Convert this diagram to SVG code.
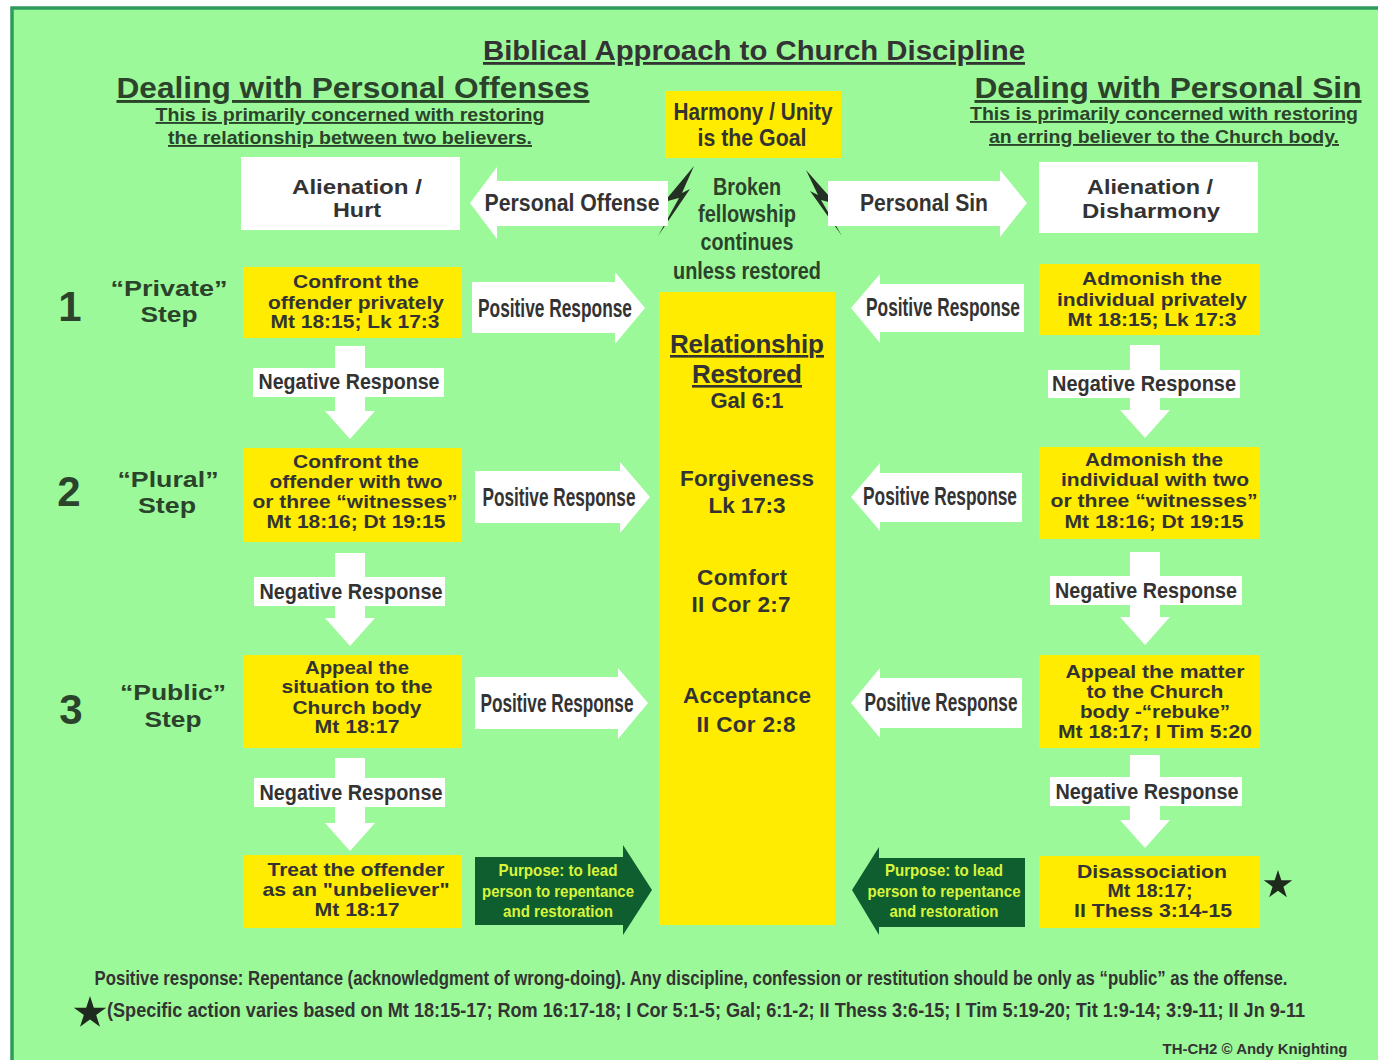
<svg xmlns="http://www.w3.org/2000/svg" xmlns:xlink="http://www.w3.org/1999/xlink" width="1378" height="1060" viewBox="0 0 1378 1060">
<style>
text{font-family:"Liberation Sans",Arial,sans-serif;font-weight:bold;text-anchor:middle;fill:#333;}
.n{font-family:"Liberation Sans Narrow","Liberation Sans",Arial,sans-serif;}
.h{fill:#2b432b;}
.u{text-decoration:underline;}
.bx{font-size:18.5px;}
.pr{font-size:25px;}
.ng{font-size:22px;}
.pu{font-size:17px;fill:#d8f53c;}
.yel{fill:#ffec00;}
.wht{fill:#ffffff;}
.dg{fill:#0e5e30;}
.c{font-size:22.5px;}
</style>
<defs>
<path id="star" d="M0,-1 L0.2245,-0.309 L0.951,-0.309 L0.363,0.118 L0.588,0.809 L0,0.382 L-0.588,0.809 L-0.363,0.118 L-0.951,-0.309 L-0.2245,-0.309 Z" fill="#1e2a1e"/>
<polygon id="down" points="-15,0 15,0 15,65 25,65 0,93 -25,65 -15,65"/>
</defs>
<rect x="0" y="0" width="1378" height="1060" fill="#ffffff"/>
<rect x="12" y="8" width="1380" height="1070" fill="#9cf99a" stroke="#2e9a5c" stroke-width="3.5"/>

<g id="titles">
<text class="n u" x="754" y="60" font-size="28" textLength="542" lengthAdjust="spacingAndGlyphs">Biblical Approach to Church Discipline</text>
<text class="h u" x="353" y="98" font-size="29" textLength="473" lengthAdjust="spacingAndGlyphs">Dealing with Personal Offenses</text>
<text class="n h u" x="350" y="121" font-size="19" textLength="389" lengthAdjust="spacingAndGlyphs">This is primarily concerned with restoring</text>
<text class="n h u" x="350" y="144" font-size="19" textLength="364" lengthAdjust="spacingAndGlyphs">the relationship between two believers.</text>
<text class="h u" x="1168" y="98" font-size="29" textLength="387" lengthAdjust="spacingAndGlyphs">Dealing with Personal Sin</text>
<text class="n h u" x="1164" y="120" font-size="19" textLength="388" lengthAdjust="spacingAndGlyphs">This is primarily concerned with restoring</text>
<text class="n h u" x="1164" y="143" font-size="19" textLength="350" lengthAdjust="spacingAndGlyphs">an erring believer to the Church body.</text>
</g>

<g id="goal">
<rect class="yel" x="665" y="91" width="176" height="67"/>
<text class="n" x="753" y="120" font-size="23" textLength="159" lengthAdjust="spacingAndGlyphs">Harmony / Unity</text>
<text class="n" x="752" y="146" font-size="23" textLength="109" lengthAdjust="spacingAndGlyphs">is the Goal</text>
</g>

<g id="broken">
<text class="n h" x="747" y="195" font-size="23" textLength="68" lengthAdjust="spacingAndGlyphs">Broken</text>
<text class="n h" x="747" y="222" font-size="23" textLength="98" lengthAdjust="spacingAndGlyphs">fellowship</text>
<text class="n h" x="747" y="250" font-size="23" textLength="93" lengthAdjust="spacingAndGlyphs">continues</text>
<text class="n h" x="747" y="279" font-size="23" textLength="148" lengthAdjust="spacingAndGlyphs">unless restored</text>
<polygon points="694,166 664,202 679,198 658,236 690,189 682,193" fill="#243024"/>
<polygon points="806,170 836,204 821,200 842,236 810,191 818,195" fill="#243024"/>
</g>

<g id="hurt">
<rect class="wht" x="241" y="157" width="219" height="73"/>
<text x="357" y="194" font-size="20" textLength="130" lengthAdjust="spacingAndGlyphs">Alienation /</text>
<text x="357" y="217" font-size="20" textLength="48" lengthAdjust="spacingAndGlyphs">Hurt</text>
</g>
<g id="disharmony">
<rect class="wht" x="1039" y="162" width="219" height="71"/>
<text x="1150" y="194" font-size="20" textLength="126" lengthAdjust="spacingAndGlyphs">Alienation /</text>
<text x="1151" y="218" font-size="20" textLength="138" lengthAdjust="spacingAndGlyphs">Disharmony</text>
</g>

<g id="steps">
<text class="h" x="70" y="321" font-size="42">1</text>
<text class="h" x="69" y="506" font-size="42">2</text>
<text class="h" x="71" y="724" font-size="42">3</text>
<text class="h" x="169" y="296" font-size="22" textLength="117" lengthAdjust="spacingAndGlyphs">“Private”</text>
<text class="h" x="169" y="322" font-size="22" textLength="57" lengthAdjust="spacingAndGlyphs">Step</text>
<text class="h" x="168" y="487" font-size="22" textLength="101" lengthAdjust="spacingAndGlyphs">“Plural”</text>
<text class="h" x="167" y="513" font-size="22" textLength="58" lengthAdjust="spacingAndGlyphs">Step</text>
<text class="h" x="173" y="700" font-size="22" textLength="106" lengthAdjust="spacingAndGlyphs">“Public”</text>
<text class="h" x="173" y="727" font-size="22" textLength="57" lengthAdjust="spacingAndGlyphs">Step</text>
</g>

<g id="restored">
<rect class="yel" x="659" y="292" width="176" height="633"/>
<text class="u" x="747" y="353" font-size="26" textLength="154">Relationship</text>
<text class="u" x="747" y="383" font-size="26" textLength="110">Restored</text>
<text x="747" y="408" font-size="22" textLength="73">Gal 6:1</text>
<text x="747" y="486" class="c" textLength="134">Forgiveness</text>
<text x="747" y="513" class="c" textLength="77">Lk 17:3</text>
<text x="742" y="585" class="c" textLength="90">Comfort</text>
<text x="741" y="612" class="c" textLength="99">II Cor 2:7</text>
<text x="747" y="703" class="c" textLength="128">Acceptance</text>
<text x="746" y="732" class="c" textLength="99">II Cor 2:8</text>
</g>

<g id="left-step1">
<rect class="yel" x="243" y="267" width="219" height="71"/>
<text class="bx" x="356" y="288" textLength="126" lengthAdjust="spacingAndGlyphs">Confront the</text>
<text class="bx" x="356" y="309" textLength="176" lengthAdjust="spacingAndGlyphs">offender privately</text>
<text class="bx" x="355" y="328" textLength="169" lengthAdjust="spacingAndGlyphs">Mt 18:15; Lk 17:3</text>
</g>
<g id="left-step2">
<rect class="yel" x="243" y="448" width="219" height="94"/>
<text class="bx" x="356" y="468" textLength="126" lengthAdjust="spacingAndGlyphs">Confront the</text>
<text class="bx" x="356" y="488" textLength="173" lengthAdjust="spacingAndGlyphs">offender with two</text>
<text class="bx" x="355" y="508" textLength="205" lengthAdjust="spacingAndGlyphs">or three “witnesses”</text>
<text class="bx" x="356" y="528" textLength="179" lengthAdjust="spacingAndGlyphs">Mt 18:16; Dt 19:15</text>
</g>
<g id="left-step3">
<rect class="yel" x="243" y="655" width="219" height="93"/>
<text class="bx" x="357" y="674" textLength="104" lengthAdjust="spacingAndGlyphs">Appeal the</text>
<text class="bx" x="357" y="693" textLength="151" lengthAdjust="spacingAndGlyphs">situation to the</text>
<text class="bx" x="357" y="714" textLength="129" lengthAdjust="spacingAndGlyphs">Church body</text>
<text class="bx" x="357" y="733" textLength="85" lengthAdjust="spacingAndGlyphs">Mt 18:17</text>
</g>
<g id="left-step4">
<rect class="yel" x="243" y="855" width="219" height="73"/>
<text class="bx" x="356" y="876" textLength="177" lengthAdjust="spacingAndGlyphs">Treat the offender</text>
<text class="bx" x="356" y="896" textLength="187" lengthAdjust="spacingAndGlyphs">as an "unbeliever"</text>
<text class="bx" x="357" y="916" textLength="85" lengthAdjust="spacingAndGlyphs">Mt 18:17</text>
</g>

<g id="right-step1">
<rect class="yel" x="1039" y="264" width="221" height="71"/>
<text class="bx" x="1152" y="285" textLength="140" lengthAdjust="spacingAndGlyphs">Admonish the</text>
<text class="bx" x="1152" y="306" textLength="190" lengthAdjust="spacingAndGlyphs">individual privately</text>
<text class="bx" x="1152" y="326" textLength="169" lengthAdjust="spacingAndGlyphs">Mt 18:15; Lk 17:3</text>
</g>
<g id="right-step2">
<rect class="yel" x="1039" y="447" width="221" height="92"/>
<text class="bx" x="1154" y="466" textLength="138" lengthAdjust="spacingAndGlyphs">Admonish the</text>
<text class="bx" x="1155" y="486" textLength="188" lengthAdjust="spacingAndGlyphs">individual with two</text>
<text class="bx" x="1154" y="507" textLength="207" lengthAdjust="spacingAndGlyphs">or three “witnesses”</text>
<text class="bx" x="1154" y="528" textLength="179" lengthAdjust="spacingAndGlyphs">Mt 18:16; Dt 19:15</text>
</g>
<g id="right-step3">
<rect class="yel" x="1039" y="655" width="221" height="93"/>
<text class="bx" x="1155" y="678" textLength="179" lengthAdjust="spacingAndGlyphs">Appeal the matter</text>
<text class="bx" x="1155" y="698" textLength="137" lengthAdjust="spacingAndGlyphs">to the Church</text>
<text class="bx" x="1155" y="718" textLength="150" lengthAdjust="spacingAndGlyphs">body -“rebuke”</text>
<text class="bx" x="1155" y="738" textLength="194" lengthAdjust="spacingAndGlyphs">Mt 18:17; I Tim 5:20</text>
</g>
<g id="right-step4">
<rect class="yel" x="1039" y="856" width="221" height="72"/>
<text class="bx" x="1152" y="878" textLength="150" lengthAdjust="spacingAndGlyphs">Disassociation</text>
<text class="bx" x="1150" y="897" textLength="85" lengthAdjust="spacingAndGlyphs">Mt 18:17;</text>
<text class="bx" x="1153" y="917" textLength="158" lengthAdjust="spacingAndGlyphs">II Thess 3:14-15</text>
<use href="#star" transform="translate(1278,885) scale(15)"/>
</g>

<g id="connectors">
<polygon class="wht" points="470,203 497,167 497,181 668,181 668,226 497,226 497,239"/>
<text class="n" x="572" y="211" font-size="23" textLength="175" lengthAdjust="spacingAndGlyphs">Personal Offense</text>
<polygon class="wht" points="828,181 1000,181 1000,170 1027,203 1000,237 1000,226 828,226"/>
<text class="n" x="924" y="211" font-size="23" textLength="128" lengthAdjust="spacingAndGlyphs">Personal Sin</text>

<polygon class="wht" points="472,282 615,282 615,272 645,308 615,344 615,333 472,333"/>
<text class="n pr" x="555" y="317" textLength="154" lengthAdjust="spacingAndGlyphs">Positive Response</text>
<polygon class="wht" points="475,471 620,471 620,462 650,497 620,533 620,523 475,523"/>
<text class="n pr" x="559" y="506" textLength="153" lengthAdjust="spacingAndGlyphs">Positive Response</text>
<polygon class="wht" points="475,677 618,677 618,668 648,703 618,739 618,729 475,729"/>
<text class="n pr" x="557" y="712" textLength="153" lengthAdjust="spacingAndGlyphs">Positive Response</text>

<polygon class="wht" points="1024,284 880,284 880,274 851,308 880,343 880,332 1024,332"/>
<text class="n pr" x="943" y="316" textLength="154" lengthAdjust="spacingAndGlyphs">Positive Response</text>
<polygon class="wht" points="1022,473 880,473 880,463 851,497 880,531 880,522 1022,522"/>
<text class="n pr" x="940" y="505" textLength="154" lengthAdjust="spacingAndGlyphs">Positive Response</text>
<polygon class="wht" points="1022,678 880,678 880,668 851,703 880,738 880,728 1022,728"/>
<text class="n pr" x="941" y="711" textLength="153" lengthAdjust="spacingAndGlyphs">Positive Response</text>

<use href="#down" class="wht" transform="translate(350,346)"/>
<rect class="wht" x="253" y="368" width="191" height="29"/>
<text class="n ng" x="349" y="389" textLength="181" lengthAdjust="spacingAndGlyphs">Negative Response</text>
<use href="#down" class="wht" transform="translate(350,553)"/>
<rect class="wht" x="254" y="577" width="191" height="29"/>
<text class="n ng" x="351" y="599" textLength="183" lengthAdjust="spacingAndGlyphs">Negative Response</text>
<use href="#down" class="wht" transform="translate(350,758)"/>
<rect class="wht" x="254" y="778" width="191" height="29"/>
<text class="n ng" x="351" y="800" textLength="183" lengthAdjust="spacingAndGlyphs">Negative Response</text>

<use href="#down" class="wht" transform="translate(1145,345)"/>
<rect class="wht" x="1048" y="370" width="192" height="28"/>
<text class="n ng" x="1144" y="391" textLength="184" lengthAdjust="spacingAndGlyphs">Negative Response</text>
<use href="#down" class="wht" transform="translate(1145,552)"/>
<rect class="wht" x="1050" y="576" width="192" height="29"/>
<text class="n ng" x="1146" y="598" textLength="182" lengthAdjust="spacingAndGlyphs">Negative Response</text>
<use href="#down" class="wht" transform="translate(1145,755)"/>
<rect class="wht" x="1050" y="777" width="192" height="29"/>
<text class="n ng" x="1147" y="799" textLength="183" lengthAdjust="spacingAndGlyphs">Negative Response</text>

<polygon class="dg" points="475,857 623,857 623,845 652,890 623,935 623,925 475,925"/>
<text class="n pu" x="558" y="876" textLength="119" lengthAdjust="spacingAndGlyphs">Purpose: to lead</text>
<text class="n pu" x="558" y="897" textLength="152" lengthAdjust="spacingAndGlyphs">person to repentance</text>
<text class="n pu" x="558" y="917" textLength="110" lengthAdjust="spacingAndGlyphs">and restoration</text>
<polygon class="dg" points="1025,858 879,858 879,847 852,890 879,935 879,927 1025,927"/>
<text class="n pu" x="944" y="876" textLength="118" lengthAdjust="spacingAndGlyphs">Purpose: to lead</text>
<text class="n pu" x="944" y="897" textLength="153" lengthAdjust="spacingAndGlyphs">person to repentance</text>
<text class="n pu" x="944" y="917" textLength="109" lengthAdjust="spacingAndGlyphs">and restoration</text>
</g>

<g id="footer">
<text class="n" transform="translate(691,985) scale(0.72,1)" x="0" y="0" font-size="20" textLength="1657" lengthAdjust="spacingAndGlyphs">Positive response: Repentance (acknowledgment of wrong-doing).  Any discipline, confession or restitution should be only as  “public” as the offense.</text>
<use href="#star" transform="translate(90,1013) scale(17)"/>
<text class="n" transform="translate(706,1017) scale(0.72,1)" x="0" y="0" font-size="20" textLength="1664" lengthAdjust="spacingAndGlyphs">(Specific action varies based on Mt 18:15-17; Rom 16:17-18; I Cor 5:1-5; Gal; 6:1-2; II Thess 3:6-15; I Tim 5:19-20; Tit 1:9-14; 3:9-11; II Jn 9-11</text>
<text class="n" x="1255" y="1054" font-size="15" textLength="185" lengthAdjust="spacingAndGlyphs">TH-CH2 © Andy Knighting</text>
</g>
</svg>
